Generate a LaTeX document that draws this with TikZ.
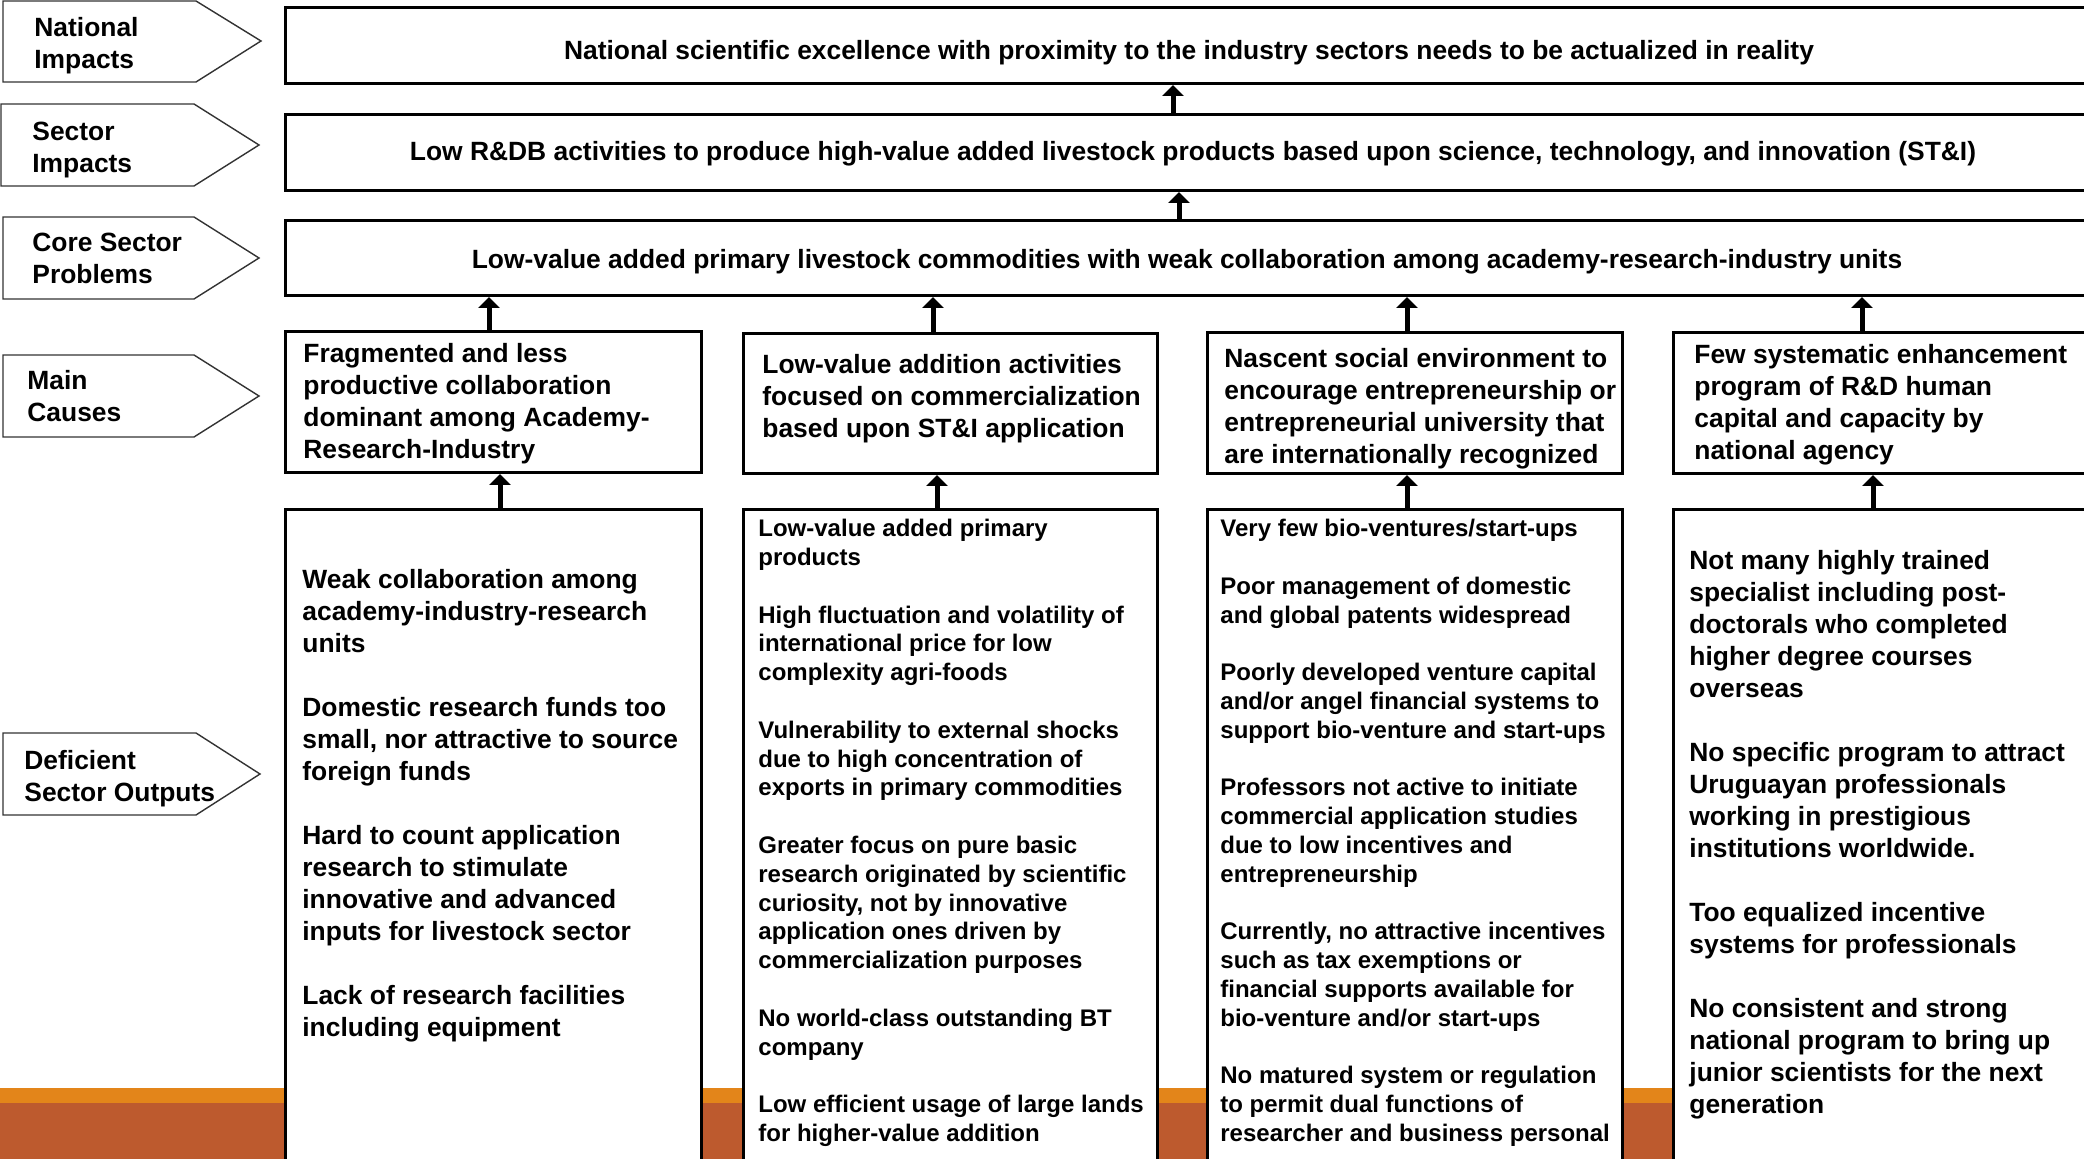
\documentclass[tikz,border=0pt]{standalone}
\usepackage{fontspec}
\setmainfont{Liberation Sans}
\usetikzlibrary{arrows.meta}
\definecolor{bandorange}{HTML}{E3851A}
\definecolor{bandrust}{HTML}{BD5A2E}
\begin{document}
\begin{tikzpicture}[x=0.5pt,y=-0.5pt,
  box/.style={draw=black, line width=1.5pt, fill=white, inner sep=0pt},
  pent/.style={draw=black!80, line width=0.7pt, fill=white, line join=miter},
  lbl/.style={font=\fontsize{13.2}{16}\selectfont\bfseries, align=left, anchor=west, inner sep=0pt},
  btxt/.style={font=\fontsize{13.2}{16}\selectfont\bfseries, align=left, inner sep=0pt},
  stxt/.style={font=\fontsize{12}{14.4}\selectfont\bfseries, align=left, inner sep=0pt},
  arr/.style={line width=2.5pt, -{Triangle[width=10.5pt,length=5.5pt]}},
]
\useasboundingbox (0,0) rectangle (2084,1159);
\clip (0,0) rectangle (2084,1159);

% bottom band
\fill[bandorange] (0,1088) rectangle (2084,1103);
\fill[bandrust] (0,1103) rectangle (2084,1159);

% left pentagons
\draw[pent] (3,1) -- (196,1) -- (261,41) -- (196,82) -- (3,82) -- cycle;
\draw[pent] (1,104) -- (194,104) -- (259,145) -- (194,186) -- (1,186) -- cycle;
\draw[pent] (3,217) -- (194,217) -- (259,258) -- (194,299) -- (3,299) -- cycle;
\draw[pent] (3,355) -- (194,355) -- (259,396) -- (194,437) -- (3,437) -- cycle;
\draw[pent] (3,733) -- (196,733) -- (260,774) -- (196,815) -- (3,815) -- cycle;
\node[lbl] (l1) at (34,46) {National\\Impacts};
\node[lbl] (l2) at (32,150) {Sector\\Impacts};
\node[lbl] (l3) at (32,258) {Core Sector\\Problems};
\node[lbl] (l4) at (27,396) {Main\\Causes};
\node[lbl] (l5) at (24,779) {Deficient\\Sector Outputs};

% wide boxes
\node[box, anchor=north west, minimum width=906pt, minimum height=38pt] (top) at (284,6) {};
\node[box, anchor=north west, minimum width=906pt, minimum height=38pt] (sec) at (284,113) {};
\node[box, anchor=north west, minimum width=906pt, minimum height=37.5pt] (core) at (284,219) {};
\node[btxt] (topt) at (1189,53) {National scientific excellence with proximity to the industry sectors needs to be actualized in reality};
\node[btxt] (sect) at (1193,154) {Low R\&DB activities to produce high-value added livestock products based upon science, technology, and innovation (ST\&I)};
\node[btxt] (coret) at (1187,262) {Low-value added primary livestock commodities with weak collaboration among academy-research-industry units};

% cause boxes
\node[box, anchor=north west, minimum width=208pt, minimum height=70.5pt] (c1) at (284,330) {};
\node[box, anchor=north west, minimum width=207pt, minimum height=70pt] (c2) at (742,332) {};
\node[box, anchor=north west, minimum width=207.5pt, minimum height=70.5pt] (c3) at (1206,331) {};
\node[box, anchor=north west, minimum width=216pt, minimum height=70.5pt] (c4) at (1672,331) {};
\node[btxt, anchor=west] (c1t) at (303,404) {Fragmented and less\\productive collaboration\\dominant among Academy-\\Research-Industry};
\node[btxt, anchor=west] (c2t) at (762,399) {Low-value addition activities\\focused on commercialization\\based upon ST\&I application};
\node[btxt, anchor=west] (c3t) at (1224,409) {Nascent social environment to\\encourage entrepreneurship or\\entrepreneurial university that\\are internationally recognized};
\node[btxt, anchor=west] (c4t) at (1694,405) {Few systematic enhancement\\program of R\&D human\\capital and capacity by\\national agency};

% output boxes
\node[box, anchor=north west, minimum width=208pt, minimum height=340pt] (o1) at (284,508) {};
\node[box, anchor=north west, minimum width=207pt, minimum height=340pt] (o2) at (742,508) {};
\node[box, anchor=north west, minimum width=207.5pt, minimum height=340pt] (o3) at (1206,508) {};
\node[box, anchor=north west, minimum width=216pt, minimum height=340pt] (o4) at (1672,508) {};

\node[btxt, anchor=north west] (o1t) at (302,568.5) {Weak collaboration among\\academy-industry-research\\units\\[16pt]
Domestic research funds too\\small, nor attractive to source\\foreign funds\\[16pt]
Hard to count application\\research to stimulate\\innovative and advanced\\inputs for livestock sector\\[16pt]
Lack of research facilities\\including equipment};

\node[stxt, anchor=north west] (o2t) at (758,519) {Low-value added primary\\products\\[14.4pt]
High fluctuation and volatility of\\international price for low\\complexity agri-foods\\[14.4pt]
Vulnerability to external shocks\\due to high concentration of\\exports in primary commodities\\[14.4pt]
Greater focus on pure basic\\research originated by scientific\\curiosity, not by innovative\\application ones driven by\\commercialization purposes\\[14.4pt]
No world-class outstanding BT\\company\\[14.4pt]
Low efficient usage of large lands\\for higher-value addition};

\node[stxt, anchor=north west] (o3t) at (1220,519) {Very few bio-ventures/start-ups\\[14.4pt]
Poor management of domestic\\and global patents widespread\\[14.4pt]
Poorly developed venture capital\\and/or angel financial systems to\\support bio-venture and start-ups\\[14.4pt]
Professors not active to initiate\\commercial application studies\\due to low incentives and\\entrepreneurship\\[14.4pt]
Currently, no attractive incentives\\such as tax exemptions or\\financial supports available for\\bio-venture and/or start-ups\\[14.4pt]
No matured system or regulation\\to permit dual functions of\\researcher and business personal};

\node[btxt, anchor=north west] (o4t) at (1689,550) {Not many highly trained\\specialist including post-\\doctorals who completed\\higher degree courses\\overseas\\[16pt]
No specific program to attract\\Uruguayan professionals\\working in prestigious\\institutions worldwide.\\[16pt]
Too equalized incentive\\systems for professionals\\[16pt]
No consistent and strong\\national program to bring up\\junior scientists for the next\\generation};

% arrows
\draw[arr] (1173,0 |- sec.north) -- (1173,0 |- top.south);
\draw[arr] (1179,0 |- core.north) -- (1179,0 |- sec.south);
\draw[arr] (489,0 |- c1.north) -- (489,0 |- core.south);
\draw[arr] (933,0 |- c2.north) -- (933,0 |- core.south);
\draw[arr] (1407,0 |- c3.north) -- (1407,0 |- core.south);
\draw[arr] (1862,0 |- c4.north) -- (1862,0 |- core.south);
\draw[arr] (500,0 |- o1.north) -- (500,0 |- c1.south);
\draw[arr] (937,0 |- o2.north) -- (937,0 |- c2.south);
\draw[arr] (1407,0 |- o3.north) -- (1407,0 |- c3.south);
\draw[arr] (1873,0 |- o4.north) -- (1873,0 |- c4.south);
\end{tikzpicture}
\end{document}
